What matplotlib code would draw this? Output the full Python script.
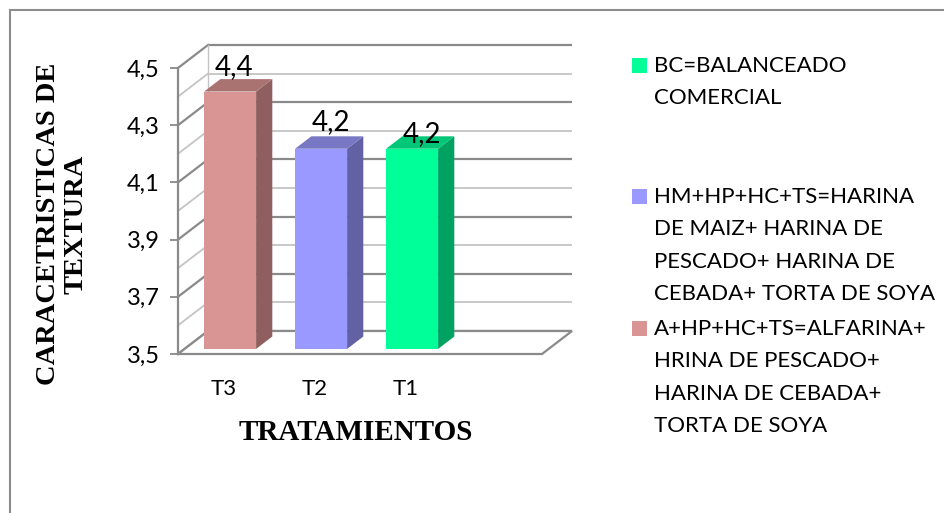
import numpy as np
import matplotlib
matplotlib.use("Agg")
import matplotlib.pyplot as plt
from matplotlib.patches import Polygon, Rectangle

# ---------------- data ----------------
categories = ["T3", "T2", "T1"]
values = [4.4, 4.2, 4.2]
value_labels = ["4,4", "4,2", "4,2"]
legend_labels = [
    "BC=BALANCEADO\nCOMERCIAL",
    "HM+HP+HC+TS=HARINA\nDE MAIZ+ HARINA DE\nPESCADO+ HARINA DE\nCEBADA+ TORTA DE SOYA",
    "A+HP+HC+TS=ALFARINA+\nHRINA DE PESCADO+\nHARINA DE CEBADA+\nTORTA DE SOYA",
]
y_ticks = [3.5, 3.7, 3.9, 4.1, 4.3, 4.5]
y_ticklabels = ["3,5", "3,7", "3,9", "4,1", "4,3", "4,5"]
y_title = "CARACETRISTICAS DE\nTEXTURA"
x_title = "TRATAMIENTOS"

# ---------------- style ----------------
front_cols = ["#D99594", "#9999FF", "#00FF99"]
side_cols = ["#8E5F5E", "#6161A3", "#00A262"]
top_cols = ["#A87371", "#7777C4", "#00C777"]
legend_cols = ["#00FF99", "#9999FF", "#D99594"]

W, H = 945, 513
fig = plt.figure(figsize=(W / 100, H / 100), dpi=100)
fig.patch.set_facecolor("white")

# outer frame
fig.patches.append(Rectangle((10 / W, -0.1), 1.2, (H - 10) / H + 0.1,
                             transform=fig.transFigure, fill=False,
                             edgecolor="#8C8C8C", lw=1.5))

x0, x1, yb, yt = 178, 542, 354, 68
ax = fig.add_axes([x0 / W, (H - yb) / H, (x1 - x0) / W, (yb - yt) / H])
ax.set_xlim(-0.5, 3.5)
ax.set_ylim(3.5, 4.5)
ax.set_facecolor("none")

px_x = (x1 - x0) / 4.0          # px per x unit
px_y = (yb - yt) / 1.0          # px per y unit
DX = 30 / px_x                  # depth in data units
DY = 23 / px_y
f0, f1 = 0.22, 0.76             # bar front / back depth fraction
hw = 26 / px_x                  # half bar width

grid_major = "#8A8A8A"
grid_minor = "#C4C4C4"

levels = np.round(np.arange(3.5, 4.501, 0.1), 2)
for i, v in enumerate(levels):
    major = (i % 2 == 0)
    c = grid_major if major else grid_minor
    lw = 1.6 if major else 1.3
    ax.plot([-0.5 + DX, 3.5 + DX], [v + DY, v + DY], color=c, lw=lw,
            clip_on=False, zorder=1, solid_capstyle="butt")
    ax.plot([-0.5, -0.5 + DX], [v, v + DY], color=c, lw=lw,
            clip_on=False, zorder=1)
ax.plot([-0.5 + DX, -0.5 + DX], [3.5 + DY, 4.5 + DY], color=grid_minor, lw=1.0,
        clip_on=False, zorder=1)
floor = Polygon([(-0.5, 3.5), (3.5, 3.5), (3.5 + DX, 3.5 + DY), (-0.5 + DX, 3.5 + DY)],
                closed=True, facecolor="white", edgecolor=grid_major, lw=1.6,
                clip_on=False, zorder=1.5)
ax.add_patch(floor)

# bars
base = 3.5
for k, v in enumerate(values):
    xl, xr = k - hw, k + hw
    front = Polygon([(xl + f0 * DX, base + f0 * DY), (xr + f0 * DX, base + f0 * DY),
                     (xr + f0 * DX, v + f0 * DY), (xl + f0 * DX, v + f0 * DY)],
                    closed=True, facecolor=front_cols[k], edgecolor="none",
                    clip_on=False, zorder=3)
    side = Polygon([(xr + f0 * DX, base + f0 * DY), (xr + f1 * DX, base + f1 * DY),
                    (xr + f1 * DX, v + f1 * DY), (xr + f0 * DX, v + f0 * DY)],
                   closed=True, facecolor=side_cols[k], edgecolor="none",
                   clip_on=False, zorder=3)
    top = Polygon([(xl + f0 * DX, v + f0 * DY), (xr + f0 * DX, v + f0 * DY),
                   (xr + f1 * DX, v + f1 * DY), (xl + f1 * DX, v + f1 * DY)],
                  closed=True, facecolor=top_cols[k], edgecolor="none",
                  clip_on=False, zorder=3)
    for p in (front, side, top):
        ax.add_patch(p)

# data labels
label_offsets_px = [(10.5, 29.6), (16.5, 31.8), (16.5, 19.8)]
for k, v in enumerate(values):
    ox, oy = label_offsets_px[k]
    ax.annotate(value_labels[k], (k, v), xytext=(ox * 0.72, oy * 0.72),
                textcoords="offset points", ha="center", va="center",
                fontsize=20, family="Lato", color="black", zorder=5,
                annotation_clip=False)

# axes styling
for s in ["top", "right", "bottom"]:
    ax.spines[s].set_visible(False)
ax.spines["left"].set_color(grid_major)
ax.spines["left"].set_linewidth(1.6)
ax.set_yticks(y_ticks)
ax.set_yticklabels(y_ticklabels, family="Lato", fontsize=17)
ax.tick_params(axis="y", length=6, width=1.3, color=grid_major, pad=7)
ax.set_xticks(range(len(categories)))
ax.set_xticklabels(categories, family="Lato", fontsize=16)
ax.tick_params(axis="x", length=0, pad=18)

yl = ax.set_ylabel(y_title, family="Liberation Serif", fontweight="bold",
                   fontsize=20.5, linespacing=1.12, multialignment="center")
yl.set_va("center")
ax.yaxis.set_label_coords((62 - x0) / (x1 - x0), (yb - 224) / (yb - yt))
xl_ = ax.set_xlabel(x_title, family="Liberation Serif", fontweight="bold", fontsize=21)
xl_.set_va("center")
ax.xaxis.set_label_coords((356 - x0) / (x1 - x0), (yb - 432) / (yb - yt))

# legend (manual)
entry_first_line = [66, 197, 329]
line_step = 32.3
for i, lab in enumerate(legend_labels):
    cy = entry_first_line[i]
    fig.patches.append(Rectangle((632 / W, (H - cy + 1 - 7.5) / H), 15 / W, 15 / H,
                                 transform=fig.transFigure, facecolor=legend_cols[i],
                                 edgecolor="none"))
    for j, line in enumerate(lab.split("\n")):
        fig.text(654 / W, (H - cy - j * line_step) / H, line, family="Lato",
                 fontsize=16, ha="left", va="center")

fig.savefig("out.png", dpi=100, facecolor="white")
